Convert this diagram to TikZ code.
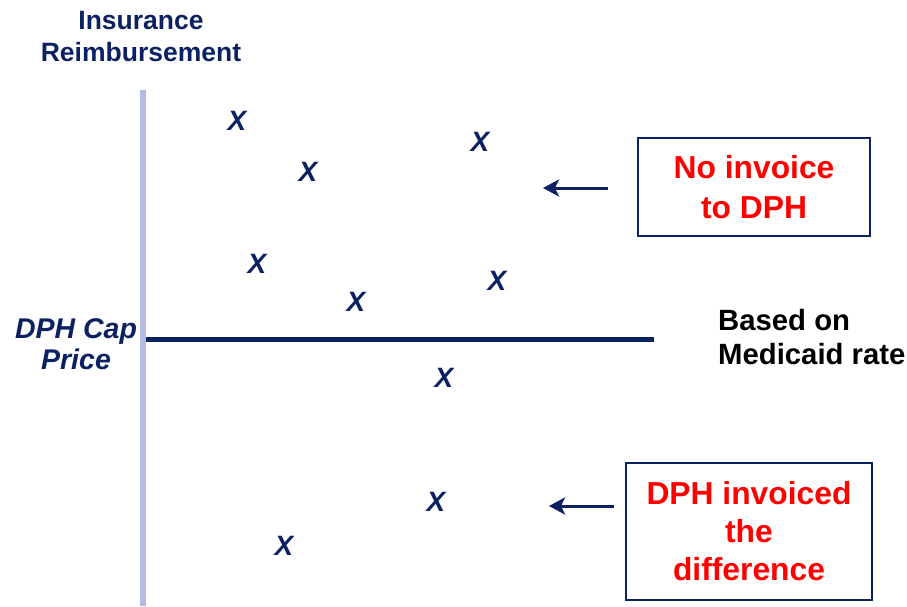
\documentclass[tikz,border=0pt]{standalone}
\usepackage{fontspec}
\setmainfont{Liberation Sans}
\usetikzlibrary{arrows.meta}
\definecolor{navy}{HTML}{0C2161}
\definecolor{axisblue}{HTML}{B4BCE6}
\definecolor{redtxt}{HTML}{FF0000}
\tikzset{
  mark x/.style={font=\fontsize{28}{28}\selectfont\bfseries\itshape, text=navy, inner sep=0pt},
  lbl/.style={font=\fontsize{26.5}{32}\selectfont\bfseries, text=navy, align=center, inner sep=0pt},
  ilbl/.style={font=\fontsize{28.5}{31}\selectfont\bfseries\itshape, text=navy, align=center, inner sep=0pt},
  blbl/.style={font=\fontsize{29.3}{34}\selectfont\bfseries, text=black, align=left, inner sep=0pt, anchor=west},
  redbox/.style={draw=navy, line width=1.6pt, text=redtxt, align=center, inner sep=0pt},
  backarrow/.style={draw=navy, line width=3pt, -{Stealth[length=16pt,width=17pt,inset=4pt]}}
}
\begin{document}
\begin{tikzpicture}[x=1pt,y=-1pt]
\useasboundingbox (0,0) rectangle (907,606);
% axes
\coordinate (ytop) at (143,90);
\coordinate (ybot) at (143,606);
\draw[axisblue, line width=6pt] (ytop) -- (ybot);
\coordinate (capL) at (146,339);
\coordinate (capR) at (654,339);
\draw[navy, line width=5pt] (capL) -- (capR);
% labels
\node[lbl] (ins) at (141,37) {Insurance\\Reimbursement};
\node[ilbl] (dph) at (76,344) {DPH Cap\\Price};
\node[blbl] (med) at (718,337) {Based on\\Medicaid rate};
% X marks
\node[mark x] (x1) at (237,121) {X};
\node[mark x] (x2) at (480,142) {X};
\node[mark x] (x3) at (308,172) {X};
\node[mark x] (x4) at (257,264) {X};
\node[mark x] (x5) at (497,281) {X};
\node[mark x] (x6) at (356,302) {X};
\node[mark x] (x7) at (444,378) {X};
\node[mark x] (x8) at (436,502) {X};
\node[mark x] (x9) at (284,546) {X};
% boxes
\node[redbox, minimum width=232pt, minimum height=98pt,
      font=\fontsize{31.8}{40}\selectfont\bfseries] (b1) at (754,187) {No invoice\\to DPH};
\node[redbox, minimum width=246pt, minimum height=137pt,
      font=\fontsize{31.8}{38}\selectfont\bfseries] (b2) at (749,531.5) {DPH invoiced\\the\\difference};
% arrows
\coordinate (a1s) at (608,188);
\coordinate (a1e) at (543,188);
\draw[backarrow] (a1s) -- (a1e);
\coordinate (a2s) at (614,506);
\coordinate (a2e) at (549,506);
\draw[backarrow] (a2s) -- (a2e);
\end{tikzpicture}
\end{document}
